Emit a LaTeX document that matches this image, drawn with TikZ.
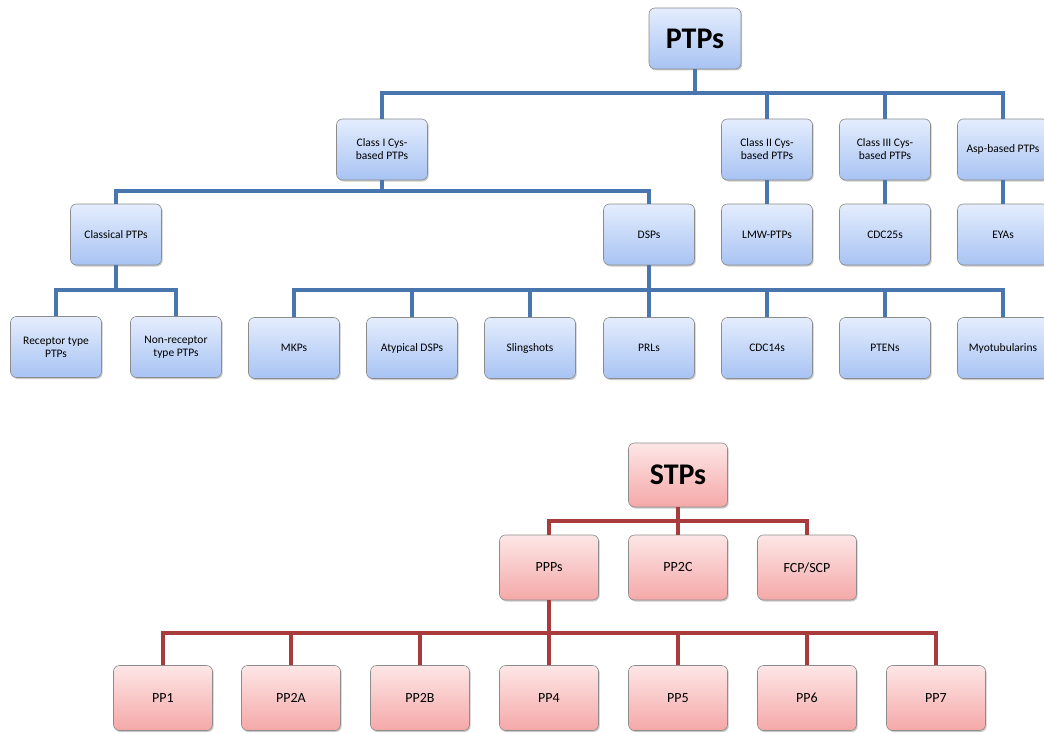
\documentclass[tikz,border=0pt]{standalone}
\usepackage{fontspec}
\setmainfont{Carlito}
\usetikzlibrary{shadows}
\definecolor{bluetop}{HTML}{E4EDFD}
\definecolor{bluebot}{HTML}{A8C3F3}
\definecolor{redtop}{HTML}{FDE6E6}
\definecolor{redbot}{HTML}{F5A8A8}
\definecolor{boxedge}{HTML}{8C8C8C}
\definecolor{blueline}{HTML}{4A76B0}
\definecolor{redline}{HTML}{A83C3C}
\tikzset{
  box/.style={draw=boxedge, line width=0.6pt, rounded corners=6pt, align=center,
    drop shadow={shadow xshift=1.2pt, shadow yshift=-1.5pt, opacity=0.35, fill=black!60},
    inner sep=2pt},
  bluebox/.style={box, top color=bluetop, bottom color=bluebot,
    minimum width=91pt, minimum height=61pt, font=\fontsize{11.5}{13}\selectfont},
  redbox/.style={box, top color=redtop, bottom color=redbot,
    minimum width=99pt, minimum height=65pt, font=\fontsize{14}{16}\selectfont},
  bigtext/.style={font=\fontsize{30}{32}\selectfont\bfseries},
  bluelink/.style={draw=blueline, line width=3.3pt},
  redlink/.style={draw=redline, line width=3.3pt},
}
\begin{document}
\begin{tikzpicture}[x=1pt, y=-1pt]
\useasboundingbox (0,0) rectangle (1044,733);

% bus levels
\coordinate (busA) at (0,93);
\coordinate (busB) at (0,191);
\coordinate (busC) at (0,290);
\coordinate (busD) at (0,521);
\coordinate (busE) at (0,633);

% ---------- PTP tree ----------
\node[bluebox, bigtext, minimum width=92pt] (ptps) at (695,38.5) {PTPs};

\node[bluebox] (c1) at (382,149.5) {Class I Cys-\\based PTPs};
\node[bluebox] (c2) at (767,149.5) {Class II Cys-\\based PTPs};
\node[bluebox] (c3) at (885,149.5) {Class III Cys-\\based PTPs};
\node[bluebox] (asp) at (1003,149.5) {Asp-based PTPs};

\node[bluebox] (classical) at (116,234.5) {Classical PTPs};
\node[bluebox] (dsps) at (649,234.5) {DSPs};
\node[bluebox] (lmw) at (767,234.5) {LMW-PTPs};
\node[bluebox] (cdc25) at (885,234.5) {CDC25s};
\node[bluebox] (eyas) at (1003,234.5) {EYAs};

\node[bluebox] (rec) at (56,347) {Receptor type\\PTPs};
\node[bluebox] (nonrec) at (176,347) {Non-receptor\\type PTPs};

\node[bluebox] (mkps) at (294,348) {MKPs};
\node[bluebox] (atyp) at (412,348) {Atypical DSPs};
\node[bluebox] (sling) at (530,348) {Slingshots};
\node[bluebox] (prls) at (649,348) {PRLs};
\node[bluebox] (cdc14) at (767,348) {CDC14s};
\node[bluebox] (ptens) at (885,348) {PTENs};
\node[bluebox] (myo) at (1003,348) {Myotubularins};

\foreach \c in {c1,c2,c3,asp}
  \draw[bluelink] (ptps.south) -- (ptps.south |- busA) -| (\c.north);
\foreach \c in {classical,dsps}
  \draw[bluelink] (c1.south) -- (c1.south |- busB) -| (\c.north);
\draw[bluelink] (c2.south) -- (lmw.north);
\draw[bluelink] (c3.south) -- (cdc25.north);
\draw[bluelink] (asp.south) -- (eyas.north);
\foreach \c in {rec,nonrec}
  \draw[bluelink] (classical.south) -- (classical.south |- busC) -| (\c.north);
\foreach \c in {mkps,atyp,sling,prls,cdc14,ptens,myo}
  \draw[bluelink] (dsps.south) -- (dsps.south |- busC) -| (\c.north);

% ---------- STP tree ----------
\node[redbox, bigtext, minimum height=64pt] (stps) at (678,475) {STPs};

\node[redbox] (ppps) at (549,567.5) {PPPs};
\node[redbox] (pp2c) at (678,567.5) {PP2C};
\node[redbox] (fcp) at (807,567.5) {FCP/SCP};

\node[redbox] (pp1) at (163,698) {PP1};
\node[redbox] (pp2a) at (291,698) {PP2A};
\node[redbox] (pp2b) at (420,698) {PP2B};
\node[redbox] (pp4) at (549,698) {PP4};
\node[redbox] (pp5) at (678,698) {PP5};
\node[redbox] (pp6) at (807,698) {PP6};
\node[redbox] (pp7) at (936,698) {PP7};

\foreach \c in {ppps,pp2c,fcp}
  \draw[redlink] (stps.south) -- (stps.south |- busD) -| (\c.north);
\foreach \c in {pp1,pp2a,pp2b,pp4,pp5,pp6,pp7}
  \draw[redlink] (ppps.south) -- (ppps.south |- busE) -| (\c.north);
\end{tikzpicture}
\end{document}
